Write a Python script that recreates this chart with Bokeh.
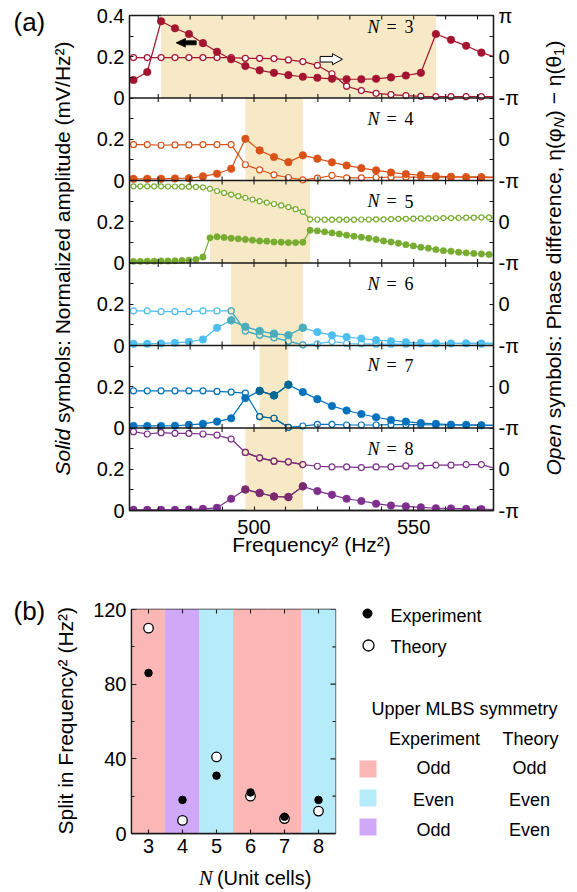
import numpy as np
from bokeh.plotting import figure
from bokeh.models import Range1d, LinearAxis, FixedTicker, Span
from bokeh.layouts import row, column
from bokeh.core.properties import value
from bokeh.embed import file_html
from bokeh.resources import INLINE

SANS = "Liberation Sans"
SERIF = "Liberation Serif"
INK = "#1a1a1a"

# ---------------- panel (a) data ----------------
# frequency^2 (Hz^2) sample points (0.1 Hz and 0.05 Hz sweeps)
freq2_coarse = [462.25, 466.56, 470.89, 475.24, 479.61, 484.00, 488.41, 492.84, 497.29,
                501.76, 506.25, 510.76, 515.29, 519.84, 524.41, 529.00, 533.61, 538.24,
                542.89, 547.56, 552.25, 556.96, 561.69, 566.44, 571.21, 576.00]
freq2_fine = [462.25, 464.4025, 466.56, 468.7225, 470.89, 473.0625, 475.24, 477.4225, 479.61,
              481.8025, 484.00, 486.2025, 488.41, 490.6225, 492.84, 495.0625, 497.29, 499.5225,
              501.76, 504.0025, 506.25, 508.5025, 510.76, 513.0225, 515.29, 517.5625, 519.84,
              522.1225, 524.41, 526.7025, 529.00, 531.3025, 533.61, 535.9225, 538.24, 540.5625,
              542.89, 545.2225, 547.56, 549.9025, 552.25, 554.6025, 556.96, 559.3225, 561.69,
              564.0625, 566.44, 568.8225, 571.21, 573.6025, 576.00]

n_cells = [3, 4, 5, 6, 7, 8]

# normalized amplitude (mV/Hz^2), solid symbols
amp_n3 = [0.087, 0.126, 0.372, 0.338, 0.310, 0.266, 0.224, 0.188, 0.155, 0.134, 0.122, 0.111,
          0.103, 0.098, 0.093, 0.091, 0.091, 0.093, 0.100, 0.109, 0.122, 0.310, 0.282, 0.253,
          0.220, 0.196]
amp_n4 = [0.008, 0.008, 0.008, 0.010, 0.011, 0.020, 0.033, 0.057, 0.202, 0.146, 0.114, 0.089,
          0.122, 0.106, 0.088, 0.073, 0.060, 0.049, 0.039, 0.031, 0.026, 0.021, 0.018, 0.016,
          0.015, 0.014]
amp_n5 = [0.008, 0.008, 0.009, 0.009, 0.010, 0.010, 0.011, 0.012, 0.014, 0.017, 0.029,
          0.122, 0.127, 0.124, 0.120, 0.117, 0.114, 0.111, 0.107, 0.106, 0.102, 0.101, 0.099,
          0.099, 0.101,
          0.159, 0.156, 0.151, 0.146, 0.141, 0.135, 0.130, 0.125, 0.120, 0.114, 0.107, 0.102,
          0.096, 0.089, 0.083, 0.076, 0.072, 0.065, 0.060, 0.057, 0.052, 0.049, 0.046, 0.044,
          0.041, 0.039]
amp_n6 = [0.008, 0.008, 0.010, 0.013, 0.018, 0.029, 0.086, 0.122, 0.091, 0.070, 0.057, 0.050,
          0.086, 0.065, 0.050, 0.041, 0.034, 0.026, 0.021, 0.016, 0.013, 0.011, 0.010, 0.010,
          0.008, 0.008]
amp_n7 = [0.010, 0.010, 0.010, 0.011, 0.015, 0.020, 0.031, 0.047, 0.145, 0.180, 0.158, 0.210,
          0.174, 0.140, 0.107, 0.085, 0.068, 0.052, 0.039, 0.031, 0.024, 0.020, 0.016, 0.015,
          0.013, 0.012]
amp_n8 = [0.003, 0.003, 0.003, 0.003, 0.005, 0.008, 0.013, 0.057, 0.102, 0.085, 0.068, 0.065,
          0.117, 0.094, 0.076, 0.057, 0.046, 0.033, 0.024, 0.020, 0.015, 0.011, 0.010, 0.008,
          0.0065, 0.006]

# phase difference in units of pi, open symbols
phase_n3 = [-0.02, -0.02, -0.02, -0.02, -0.02, -0.02, -0.02, -0.02, -0.037, -0.037, -0.045,
            -0.078, -0.118, -0.208, -0.412, -0.714, -0.820, -0.886, -0.918, -0.943, -0.959,
            -0.967, -0.967, -0.967, -0.967, -0.967]
phase_n4 = [-0.130, -0.130, -0.146, -0.138, -0.138, -0.130, -0.130, -0.130, -0.618, -0.740,
            -0.862, -0.927, -0.984, -0.943, -0.878, -0.935, -0.935, -0.927, -0.919, -0.919,
            -0.919, -0.919, -0.919, -0.911, -0.911, -0.92]
phase_n5 = [0.86, 0.86, 0.86, 0.86, 0.86, 0.855, 0.855, 0.85, 0.85, 0.845, 0.835,
            0.80, 0.745, 0.70, 0.66, 0.62, 0.58, 0.54, 0.50, 0.465, 0.43, 0.395, 0.355, 0.305,
            0.24,
            0.06, 0.055, 0.05, 0.05, 0.05, 0.05, 0.05, 0.055, 0.055, 0.06, 0.06, 0.065, 0.07,
            0.07, 0.075, 0.08, 0.08, 0.085, 0.09, 0.09, 0.095, 0.10, 0.10, 0.105, 0.105, 0.10]
phase_n6 = [-0.163, -0.163, -0.179, -0.179, -0.179, -0.163, -0.163, -0.163, -0.650, -0.748,
            -0.813, -0.894, -0.984, -0.959, -0.902, -0.951, -0.959, -0.967, -0.967, -0.967,
            -0.959, -0.959, -0.951, -0.943, -0.943, -0.943]
phase_n7 = [-0.098, -0.098, -0.098, -0.098, -0.098, -0.098, -0.114, -0.130, -0.154, -0.724,
            -0.764, -0.984, -0.951, -0.911, -0.911, -0.927, -0.927, -0.927, -0.919, -0.919,
            -0.919, -0.927, -0.927, -0.927, -0.927, -0.927]
phase_n8 = [0.911, 0.854, 0.886, 0.870, 0.870, 0.854, 0.829, 0.732, 0.407, 0.276, 0.195, 0.179,
            0.114, 0.073, 0.057, 0.057, 0.041, 0.057, 0.057, 0.081, 0.081, 0.098, 0.098, 0.114,
            0.114, 0.01]

# shaded (split) regions, Hz^2
band_left = [470.89, 497.29, 486.2025, 492.84, 501.76, 497.29]
band_right = [556.96, 515.29, 517.5625, 515.29, 510.76, 515.29]

freq_major_ticks = [500, 550]
freq_minor_ticks = [470, 480, 490, 510, 520, 530, 540, 560, 570]
amp_tick_labels = ["0", "0.2"] * 6 + ["0.4"]
phase_tick_labels = ["-\u03c0", "0"] * 6 + ["\u03c0"]

# ---------------- panel (b) data ----------------
split_cells = [3, 4, 5, 6, 7, 8]
split_experiment = [86, 18, 31, 22, 9, 18]
split_theory = [110, 7, 41, 20, 8, 12]
sym_experiment = ["Odd", "Odd", "Even", "Odd", "Odd", "Even"]
sym_theory = ["Odd", "Even", "Even", "Odd", "Odd", "Even"]
split_ticks = [0, 40, 80, 120]
split_minor_ticks = [20, 60, 100]
legend_sym_exp = ["Odd", "Even", "Odd"]
legend_sym_th = ["Odd", "Even", "Even"]

# ---------------- style ----------------
series_colors = ["#A2142F", "#D95319", "#77AC30", "#4DBEEE", "#0072BD", "#7E2F8E"]
band_fill = "#F7E8C6"
band_over = [False, False, False, True, True, True]
sym_colors = {("Odd", "Odd"): "#FBB6B6", ("Even", "Even"): "#B6ECFA",
              ("Odd", "Even"): "#D0A8F8"}


def multiply(ca, cb):
    a = [int(ca[i:i + 2], 16) for i in (1, 3, 5)]
    b = [int(cb[i:i + 2], 16) for i in (1, 3, 5)]
    return "#%02x%02x%02x" % tuple(int(round(x * y / 255)) for x, y in zip(a, b))


def style_axis(ax, size="20px", tick_in=4, minor_in=4):
    ax.axis_line_color = INK
    ax.axis_line_width = 1.3
    ax.major_tick_in = tick_in
    ax.major_tick_out = 0
    ax.minor_tick_in = minor_in
    ax.minor_tick_out = 0
    ax.major_tick_line_color = INK
    ax.minor_tick_line_color = INK
    ax.major_tick_line_width = 1.1
    ax.minor_tick_line_width = 1.1
    ax.major_label_text_font = SANS
    ax.major_label_text_color = "black"
    ax.major_label_text_font_size = size
    ax.axis_label_text_font = SANS
    ax.axis_label_text_font_style = "normal"
    ax.axis_label_text_color = "black"


def text_fig(w, h):
    f = figure(width=w, height=h, x_range=Range1d(0, w), y_range=Range1d(0, h),
               x_axis_type=None, y_axis_type=None, output_backend="svg",
               toolbar_location=None, min_border=0, outline_line_color=None)
    f.grid.visible = False
    return f


def vtext(f, x, y, t, size="21px", style="normal", align="left", font=SANS):
    f.text(x=[x], y=[y], text=[t], angle=np.pi / 2, text_font=value(font),
           text_font_style=style, text_font_size=size, text_align=align,
           text_baseline="middle", text_color="black")


# ================= panel (a) =================
X0, X1 = 461.0, 575.0
NP = len(n_cells)
PANEL_AMP = 0.4
HA = 568

extra = {}
for k, n in enumerate(n_cells):
    below = NP - 1 - k
    a0 = -PANEL_AMP * below
    extra[f"amp{n}"] = Range1d(a0, a0 + PANEL_AMP * NP)
    p0 = -1 - 2 * below
    extra[f"ph{n}"] = Range1d(p0, p0 + 2 * NP)
extra["phax"] = Range1d(-1, 2 * NP - 1)

pa = figure(width=440, height=HA, x_range=Range1d(X0, X1), y_range=Range1d(0, 4 * NP),
            output_backend="svg", toolbar_location=None,
            min_border_left=44, min_border_right=32, min_border_top=15, min_border_bottom=58)
pa.extra_y_ranges = extra
pa.grid.visible = False
pa.outline_line_color = INK
pa.outline_line_width = 1.3

# left axis (amplitude), stacked panels
lt = list(range(0, 4 * NP + 1, 2))
la_ax = pa.yaxis[0]
la_ax.ticker = FixedTicker(ticks=lt, minor_ticks=list(range(1, 4 * NP, 2)))
la_ax.major_label_overrides = {t: s for t, s in zip(lt, amp_tick_labels)}
style_axis(la_ax)

# right axis (phase)
rt = list(range(-1, 2 * NP))
ra_ax = LinearAxis(y_range_name="phax",
                   ticker=FixedTicker(ticks=rt, minor_ticks=[t + 0.5 for t in rt[:-1]]))
ra_ax.major_label_overrides = {t: s for t, s in zip(rt, phase_tick_labels)}
style_axis(ra_ax)
pa.add_layout(ra_ax, "right")

# bottom axis
bx = pa.xaxis[0]
bx.ticker = FixedTicker(ticks=freq_major_ticks, minor_ticks=freq_minor_ticks)
style_axis(bx)
bx.major_label_standoff = 9
bx.axis_label = "Frequency\u00b2 (Hz\u00b2)"
bx.axis_label_text_font_size = "21px"
bx.axis_label_standoff = -4

# shaded bands
for k, n in enumerate(n_cells):
    pa.quad(left=[band_left[k]], right=[band_right[k]], bottom=[0], top=[PANEL_AMP],
            y_range_name=f"amp{n}", fill_color=band_fill, line_color=None)

panel_x = [freq2_coarse, freq2_coarse, freq2_fine, freq2_coarse, freq2_coarse, freq2_coarse]
panel_amp = [amp_n3, amp_n4, amp_n5, amp_n6, amp_n7, amp_n8]
panel_phase = [phase_n3, phase_n4, phase_n5, phase_n6, phase_n7, phase_n8]

for k, n in enumerate(n_cells):
    xs, amp, ph = panel_x[k], panel_amp[k], panel_phase[k]
    c = series_colors[k]
    fine = k == 2
    ms_f = 6.4 if fine else 7.6
    ms_o = 5.0 if fine else 6.0
    yra, yrp = f"amp{n}", f"ph{n}"
    ins = [i for i, x in enumerate(xs) if x <= X1]
    pa.line(xs, ph, y_range_name=yrp, line_color=c, line_width=1.2)
    pa.scatter([xs[i] for i in ins], [ph[i] for i in ins], y_range_name=yrp, marker="circle",
               size=ms_o, fill_color="white", line_color=c, line_width=1.2)
    pa.line(xs, amp, y_range_name=yra, line_color=c, line_width=1.2)
    pa.scatter([xs[i] for i in ins], [amp[i] for i in ins], y_range_name=yra, marker="circle",
               size=ms_f, fill_color=c, line_color=c, line_width=0.5)
    if band_over[k]:
        cm = multiply(c, band_fill)
        inb = [i for i, x in enumerate(xs)
               if band_left[k] - 1e-6 <= x <= band_right[k] + 1e-6]
        bxs = [xs[i] for i in inb]
        pa.line(bxs, [ph[i] for i in inb], y_range_name=yrp, line_color=cm, line_width=1.2)
        pa.scatter(bxs, [ph[i] for i in inb], y_range_name=yrp, marker="circle", size=ms_o,
                   fill_color=band_fill, line_color=cm, line_width=1.2)
        pa.line(bxs, [amp[i] for i in inb], y_range_name=yra, line_color=cm, line_width=1.2)
        pa.scatter(bxs, [amp[i] for i in inb], y_range_name=yra, marker="circle", size=ms_f,
                   fill_color=cm, line_color=cm, line_width=0.5)

# panel labels "N = k"
label_x = 539.3
label_y = [0.345, 0.30, 0.30, 0.30, 0.305, 0.30]
for k, n in enumerate(n_cells):
    common = dict(y_range_name=f"amp{n}", text_font_size="18px", text_baseline="middle",
                  text_color="black")
    pa.text(x=[label_x], y=[label_y[k]], text=["N"], text_font=value(SERIF),
            text_font_style="italic", text_align="right", **common)
    pa.text(x=[label_x], y=[label_y[k]], text=["="], text_font=value(SERIF), x_offset=7,
            text_align="left", **common)
    pa.text(x=[label_x], y=[label_y[k]], text=[str(n)], text_font=value(SERIF), x_offset=25,
            text_align="left", **common)

# axis-direction arrows in the N = 3 panel
syp = 82.5 / PANEL_AMP


def arrow_poly(x_tip, x_base, x_tail, yc, hb, hh):
    xs_ = [x_tip, x_base, x_base, x_tail, x_tail, x_base, x_base]
    ys_ = [yc, yc + hh / syp, yc + hb / syp, yc + hb / syp, yc - hb / syp, yc - hb / syp,
           yc - hh / syp]
    return xs_, ys_


ax1, ay1 = arrow_poly(475.6, 478.5, 481.9, 0.2676, 2.0, 4.3)
ax2, ay2 = arrow_poly(527.7, 524.6, 520.7, 0.188, 2.8, 5.5)
pa.patch(ax1, ay1, y_range_name="amp3", fill_color="black", line_color="black", line_width=0.8)
pa.patch(ax2, ay2, y_range_name="amp3", fill_color="white", line_color="black", line_width=1.0)

# separators between panels + crossing ticks, and inward ticks along the top edge
boundaries = list(range(4, 4 * NP, 4))
for b in boundaries:
    pa.add_layout(Span(location=b, dimension="width", line_color=INK, line_width=1.3))
tick_all = sorted(freq_major_ticks + freq_minor_ticks)
edges = boundaries + [4 * NP]
pa.scatter([t for b in edges for t in tick_all], [b for b in edges for t in tick_all],
           marker="dash", angle=np.pi / 2, size=8, line_color=INK, line_width=1.1)

# left / right label columns for panel (a)
la = text_fig(85, HA)
la.text(x=[13], y=[HA - 21.5], text=["(a)"], text_font=value(SANS), text_font_size="26px",
        text_align="left", text_baseline="middle", text_color="black")
yj = HA - 475 + 46.7          # junction between the italic word and the rest
vtext(la, 62, yj, "Solid", style="italic", align="right")
vtext(la, 62, yj + 5.8, "symbols: Normalized amplitude (mV/Hz\u00b2)")

ra = text_fig(52, HA)
y0 = HA - 475 + 51.4
vtext(ra, 28, y0, "Open", style="italic", align="right")
y1 = y0 + 5.8
vtext(ra, 28, y1, "symbols: Phase difference, \u03b7(\u03c6")
y2 = y1 + 290.3
vtext(ra, 33, y2, "N", size="15px", style="italic")
y3 = y2 + 10.8
vtext(ra, 28, y3, ") \u2212 \u03b7(\u03b8")
y4 = y3 + 61.3
vtext(ra, 33, y4, "1", size="15px")
vtext(ra, 28, y4 + 8.3, ")")

# ================= panel (b) =================
pb = figure(width=270, height=294, x_range=Range1d(2.5, 8.5), y_range=Range1d(0, 120),
            output_backend="svg", toolbar_location=None,
            min_border_left=46, min_border_right=20, min_border_top=41, min_border_bottom=29)
pb.grid.visible = False
pb.outline_line_color = INK
pb.outline_line_width = 1.3
band_cols = [sym_colors[(e, t)] for e, t in zip(sym_experiment, sym_theory)]
pb.vbar(x=split_cells, width=1, bottom=0, top=pb.y_range.end, fill_color=band_cols,
        line_color=band_cols, line_width=0.8)
pb.scatter(split_cells, split_theory, marker="circle", size=9.5, fill_color="white",
           line_color="black", line_width=1.3)
pb.scatter(split_cells, split_experiment, marker="circle", size=7.5, fill_color="black",
           line_color="black")

yl = pb.yaxis[0]
yl.ticker = FixedTicker(ticks=split_ticks, minor_ticks=split_minor_ticks)
style_axis(yl, tick_in=5, minor_in=3)
xb = pb.xaxis[0]
xb.ticker = FixedTicker(ticks=split_cells, minor_ticks=[])
style_axis(xb, tick_in=4, minor_in=0)
# inward ticks on the right and top edges (half of each dash is clipped by the frame)
pb.scatter([pb.x_range.end] * len(split_ticks), split_ticks, marker="dash", size=10,
           line_color=INK, line_width=1.1)
pb.scatter([pb.x_range.end] * len(split_minor_ticks), split_minor_ticks, marker="dash", size=6,
           line_color=INK, line_width=1.1)
pb.scatter(split_cells, [pb.y_range.end] * len(split_cells), marker="dash", angle=np.pi / 2,
           size=8, line_color=INK, line_width=1.1)

HB = 324
lb = text_fig(85, HB)
lb.text(x=[13], y=[892 - 610], text=["(b)"], text_font=value(SANS), text_font_size="26px",
        text_align="left", text_baseline="middle", text_color="black")
vtext(lb, 65, 892 - 834, "Split in Frequency\u00b2 (Hz\u00b2)")

xl = text_fig(270, 30)
xl.text(x=[107.5], y=[15], text=["N"], text_font=value(SERIF), text_font_style="italic",
        text_font_size="21px", text_align="right", text_baseline="middle", text_color="black")
xl.text(x=[113], y=[15], text=["(Unit cells)"], text_font=value(SANS),
        text_font_size="20px", text_align="left", text_baseline="middle", text_color="black")

# legend / symmetry key
lg = text_fig(222, HB)
lg.scatter([12], [892 - 613], marker="circle", size=9, fill_color="black", line_color="black")
lg.scatter([13], [892 - 645], marker="circle", size=11, fill_color="white", line_color="black",
           line_width=1.3)
lt_kw = dict(text_font=value(SANS), text_font_size="18px", text_baseline="middle",
             text_color="black")
lg.text(x=[35, 35], y=[892 - 615, 892 - 646], text=["Experiment", "Theory"], text_align="left",
        **lt_kw)
lg.text(x=[16], y=[892 - 708], text=["Upper MLBS symmetry"], text_align="left", **lt_kw)
lg.text(x=[79, 175], y=[892 - 738] * 2, text=["Experiment", "Theory"], text_align="center",
        **lt_kw)
key_y = [892 - 768.5, 892 - 797.5, 892 - 826.5]
text_y = [892 - 767, 892 - 799, 892 - 829]
key_cols = [sym_colors[(e, t)] for e, t in zip(legend_sym_exp, legend_sym_th)]
lg.rect(x=[12.5] * 3, y=key_y, width=17, height=17, fill_color=key_cols, line_color=None)
lg.text(x=[78] * 3, y=text_y, text=legend_sym_exp, text_align="center", **lt_kw)
lg.text(x=[174] * 3, y=text_y, text=legend_sym_th, text_align="center", **lt_kw)

layout = column(row(la, column(pa), ra), row(lb, column(pb, xl), lg))

open("out.html", "w").write(file_html(layout, INLINE))
